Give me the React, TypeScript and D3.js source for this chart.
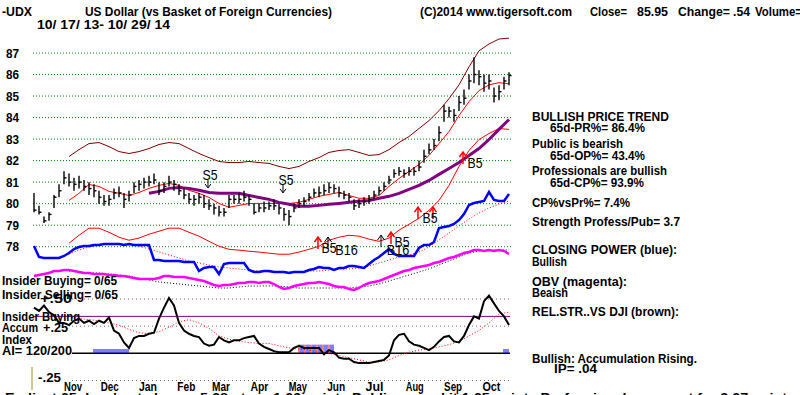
import React from 'react';
import * as d3 from 'd3';

// ---------------- DATA ----------------
const priceTicks = [87, 86, 85, 84, 83, 82, 81, 80, 79, 78];
const months = ['Nov', 'Dec', 'Jan', 'Feb', 'Mar', 'Apr', 'May', 'Jun', 'Jul', 'Aug', 'Sep', 'Oct'];
const monthStartDay = [11, 31, 52, 73, 92, 113, 134, 155, 176, 198, 219, 240];
const TRADING_DAYS = 260;

// price bars (sampled)
const closes = [79.7,79.6,79.2,79.5,80.3,80.6,81.2,81.0,80.9,81.0,
 80.8,80.7,80.6,80.3,80.1,80.2,80.5,80.5,80.2,80.4,
 80.8,80.9,81.0,81.0,81.1,80.6,80.8,81.0,80.9,80.6,
 80.4,80.2,80.2,80.3,80.0,79.9,79.8,79.6,79.6,80.2,
 80.2,80.2,80.3,80.2,79.6,79.8,79.8,79.9,79.9,79.8,
 79.5,79.4,79.8,80.0,80.1,80.3,80.5,80.5,80.6,80.75,
 80.7,80.5,80.4,80.3,79.9,80.0,80.1,80.2,80.4,80.6,
 80.8,81.1,81.4,81.5,81.4,81.5,81.5,81.7,82.2,82.5,
 82.7,83.3,84.3,84.3,84.1,84.7,84.9,85.7,86.0,85.9,
 85.6,85.7,85.0,85.2,85.7,85.95];
const highs = [80.5,79.9,79.4,79.6,80.4,80.9,81.5,81.4,81.2,81.3,
 81.1,81.0,80.9,80.6,80.4,80.4,80.7,80.8,80.5,80.6,
 81.0,81.1,81.2,81.3,81.4,81.0,81.0,81.3,81.1,80.9,
 80.7,80.5,80.4,80.5,80.4,80.2,80.0,79.9,79.8,80.4,
 80.4,80.5,80.6,80.4,80.0,80.0,80.1,80.1,80.2,80.0,
 79.8,79.7,80.0,80.2,80.3,80.5,80.7,80.8,80.9,81.0,
 80.9,80.8,80.6,80.5,80.2,80.2,80.3,80.4,80.6,80.8,
 81.0,81.3,81.6,81.7,81.6,81.7,81.7,82.0,82.5,82.8,
 83.0,83.6,84.6,84.5,84.4,85.0,85.3,86.0,86.8,86.2,
 86.0,86.0,85.4,85.5,85.9,86.1];
const lows = [79.6,79.5,79.1,79.2,79.8,80.3,80.9,80.8,80.6,80.7,
 80.6,80.4,80.3,80.0,79.9,79.9,80.2,80.3,79.8,80.1,
 80.5,80.6,80.7,80.8,80.9,80.4,80.5,80.8,80.6,80.4,
 80.2,80.0,79.9,80.0,79.8,79.7,79.5,79.4,79.4,79.8,
 80.0,80.0,80.1,79.9,79.5,79.6,79.6,79.7,79.7,79.5,
 79.2,79.0,79.6,79.8,79.9,80.1,80.3,80.3,80.4,80.5,
 80.5,80.3,80.2,80.1,79.7,79.8,79.9,80.0,80.2,80.4,
 80.6,80.9,81.2,81.3,81.2,81.3,81.3,81.5,81.9,82.3,
 82.5,82.9,83.8,84.0,83.8,84.3,84.6,85.3,85.6,85.5,
 85.2,85.3,84.7,84.8,85.3,85.5];

// smooth series, every second bar starting at bar 7
const priceMA = [80.15,80.48,80.89,80.8,80.57,80.48,80.38,80.52,80.71,80.85,
 80.94,80.85,80.62,80.48,80.29,80.01,79.83,79.92,80.01,80.01,
 80.01,80.01,80.01,80.06,80.2,80.34,80.43,80.52,80.38,80.25,
 80.25,80.38,80.8,81.17,81.5,81.82,82.24,82.79,83.35,84.09,
 84.74,85.25,85.52,85.62,85.57];
const upperBand = [82.19,82.51,82.79,82.84,82.65,82.42,82.33,82.42,82.56,82.75,
 82.84,82.79,82.56,82.33,82.14,81.96,81.91,81.91,81.96,81.91,
 81.87,81.73,81.63,81.73,81.96,82.14,82.38,82.47,82.51,82.38,
 82.24,82.28,82.51,82.84,83.12,83.49,83.86,84.32,84.88,85.52,
 86.36,87.1,87.42,87.65,87.69];
const lowerBand = [78.16,78.53,78.86,78.86,78.67,78.44,78.3,78.4,78.58,78.72,
 78.86,78.86,78.67,78.49,78.25,78.02,77.88,77.84,77.79,77.75,
 77.7,77.65,77.65,77.75,77.88,78.02,78.3,78.44,78.53,78.49,
 78.35,78.25,78.4,78.77,79.04,79.32,79.69,80.15,80.85,81.73,
 82.47,82.98,83.26,83.49,83.45];
// long MA, every second bar starting at bar 23
const longMA = [80.48,80.57,80.71,80.75,80.71,80.62,80.52,80.48,80.48,80.48,
 80.38,80.29,80.2,80.06,79.97,79.88,79.88,79.92,79.97,80.01,
 80.06,80.11,80.15,80.25,80.34,80.48,80.66,80.85,81.08,81.36,
 81.63,81.91,82.24,82.56,82.98,83.45,83.91];

const closingPower = [28,17,16,16,16,16,18,21,25,27,
 28,28,29,29,30,30,30,30,29,30,
 29,29,29,29,14,14,13,13,13,13,
 12,12,12,3,6,7,7,0,10,11,
 11,11,11,4,2,2,3,3,2,2,
 2,1,2,2,2,4,5,7,6,6,
 4,6,6,8,8,7,6,10,14,17,
 21,25,20,18,18,18,18,26,29,29,
 32,46,47,48,50,54,60,69,71,72,
 73,82,74,73,73,80];
const closingPowerMA = [20,24,27,29,30,30,30,28,25,22,
 19,16,13,11,9,7,6,5,4,3,
 2,2,2,2,3,3,4,5,5,6,
 8,11,14,17,19,22,27,34,41,48,
 55,61,66,70,73];
const obv = [16,17,18,19,21,21,22,22,21,20,
 19,19,18,18,18,17,17,16,16,15,
 14,13,13,13,13,14,16,16,15,15,
 15,14,13,12,11,9,7,6,7,7,
 8,9,9,10,10,9,10,10,8,5,
 3,4,6,7,8,9,9,10,9,8,
 6,5,5,3,2,4,7,9,10,11,
 13,15,17,19,21,22,24,25,26,27,
 29,30,32,34,35,37,39,40,42,42,
 41,42,41,42,41,38];
const obvMA = [21,20,19,19,18,17,16,14,12,10,
 9,8,7,6,5,4,4,5,6,6,
 6,6,5,4,4,4,4,4,4,5,
 6,8,11,14,17,20,23,27,31,35,
 39,41,42,42,42];
const accumIndex = [.42,.39,.44,.38,.35,.28,.28,.26,.30,.32,
 .28,.30,.27,.30,.28,.33,.21,.18,.10,.05,
 .14,.16,.16,.18,.19,.32,.42,.51,.44,.28,
 .21,.18,.16,.15,.09,.07,.08,.15,.12,.10,
 .12,.12,.14,.15,.16,.09,.06,.04,.02,.01,
 .01,.01,.05,.07,.05,.05,.05,.05,-.01,.03,
 .01,-.04,-.05,-.05,-.08,-.09,-.09,-.09,-.08,-.07,
 -.06,-.02,.12,.17,.18,.11,.08,.07,.05,.03,
 .06,.11,.15,.16,.11,.10,.16,.26,.34,.32,
 .48,.53,.46,.39,.34,.26];
const accumIndexMA = [.34,.32,.31,.30,.28,.26,.22,.19,.18,.20,
 .24,.29,.31,.28,.23,.16,.13,.11,.10,.09,
 .09,.07,.05,.04,.03,.01,0,-.02,-.04,-.06,
 -.08,-.08,-.06,-.02,.01,.03,.04,.06,.08,.11,
 .16,.21,.28,.36,.38];
const accumPeriods: [number, number, string][] = [[12, 19, 'blue'], [53, 60, 'mixed'], [94, 95, 'blue']];
const AI_LEVELS = [0.5, 0.25, -0.25];
const INSIDER_LEVEL = 0.34;

const signalArrows = [
  { bar: 34.8, value: 80.73, dir: 'down', color: '#000000' },
  { bar: 49.8, value: 80.5, dir: 'down', color: '#000000' },
  { bar: 56.8, value: 78.45, dir: 'up', color: '#ff0000' },
  { bar: 58.8, value: 78.45, dir: 'up', color: '#000000' },
  { bar: 69.4, value: 78.54, dir: 'up', color: '#000000' },
  { bar: 71.4, value: 78.68, dir: 'up', color: '#ff0000' },
  { bar: 76.8, value: 79.84, dir: 'up', color: '#ff0000' },
  { bar: 79.8, value: 79.84, dir: 'up', color: '#ff0000' },
  { bar: 85.8, value: 82.4, dir: 'up', color: '#ff0000' },
];
const signalLabels = [
  { text: 'S5', bar: 35.2, value: 81.1 },
  { text: 'S5', bar: 50.4, value: 80.87 },
  { text: 'B5', bar: 59, value: 77.72 },
  { text: 'B16', bar: 62.5, value: 77.61 },
  { text: 'B5', bar: 73.6, value: 77.99 },
  { text: 'B16', bar: 72.8, value: 77.61 },
  { text: 'B5', bar: 79.2, value: 79.1 },
  { text: 'B5', bar: 88.2, value: 81.66 },
];

// ---------------- SCALES ----------------
const N = closes.length;
const xBar = d3.scaleLinear().domain([0, N - 1]).range([34, 509]);
const xDay = d3.scaleLinear().domain([0, TRADING_DAYS]).range([34, 509]);
const yPrice = d3.scaleLinear().domain([78, 87]).range([246.7, 53]);
const yCP = d3.scaleLinear().domain([0, 84]).range([274, 190]);
const yOBV = d3.scaleLinear().domain([0, 42]).range([292, 250]);
const yAI = d3.scaleLinear().domain([-0.25, 0.5]).range([380.5, 299]);

const FONT = "'Liberation Sans', Arial, Helvetica, sans-serif";

function mkLine(scale: (v: number) => number, start: number, step: number) {
  return d3.line<number>().x((_, k) => xBar(start + step * k)).y(d => scale(d));
}

function T({ x, y, w, children, size = 12.5, weight = 'bold', anchor = 'start', fill = '#000' }: any) {
  return (
    <text x={x} y={y} fontSize={size} fontWeight={weight} fontFamily={FONT} textAnchor={anchor} fill={fill}
      textLength={w} lengthAdjust={w ? 'spacingAndGlyphs' : undefined}>{children}</text>
  );
}

export default function App() {
  const gx0 = 33, gx1 = 512;
  const hatch: any[] = [];
  accumPeriods.forEach(([a, b, kind], pi) => {
    const x0 = xBar(a), x1 = xBar(b);
    let k = 0;
    for (let x = x0; x <= x1; x += 2, k++) {
      const col = kind === 'blue' ? '#0000ff' : (k % 3 === 0 ? '#ff0000' : '#0000ff');
      hatch.push(<line key={`h${pi}-${k}`} x1={x} x2={x} y1={yAI(0)} y2={yAI(kind === 'mixed' ? 0.08 : 0.04)} stroke={col} strokeWidth={1} />);
    }
  });

  return (
    <svg width={800} height={395} style={{ position: 'fixed', left: 0, top: 0, background: '#fff' }}>
      <rect x={0} y={0} width={800} height={395} fill="#fff" />
      {/* price grid */}
      {priceTicks.map(t => (
        <g key={t}>
          <line x1={gx0} x2={gx1} y1={yPrice(t)} y2={yPrice(t)} stroke="#008000" strokeWidth={1} strokeDasharray="1 2" />
          <T x={6} y={yPrice(t) + 4.5} w={13}>{t}</T>
        </g>
      ))}
      {/* bands and MAs */}
      <path d={mkLine(yPrice, 7, 2)(upperBand) || ''} fill="none" stroke="#800000" strokeWidth={1} />
      <path d={mkLine(yPrice, 7, 2)(lowerBand) || ''} fill="none" stroke="#ff0000" strokeWidth={1} />
      <path d={mkLine(yPrice, 7, 2)(priceMA) || ''} fill="none" stroke="#ff0000" strokeWidth={1} />
      <path d={mkLine(yPrice, 23, 2)(longMA) || ''} fill="none" stroke="#800080" strokeWidth={3} />
      {/* price bars */}
      {closes.map((c, i) => (
        <g key={i}>
          <line x1={xBar(i)} x2={xBar(i)} y1={yPrice(highs[i])} y2={yPrice(lows[i])} stroke="#000" strokeWidth={1.4} />
          <line x1={xBar(i)} x2={xBar(i) + 2.5} y1={yPrice(c)} y2={yPrice(c)} stroke="#000" strokeWidth={1.4} />
        </g>
      ))}
      {/* closing power */}
      <path d={mkLine(yCP, 7, 2)(closingPowerMA) || ''} fill="none" stroke="#ff0000" strokeWidth={1} strokeDasharray="1 2" />
      <path d={mkLine(yCP, 0, 1)(closingPower) || ''} fill="none" stroke="#0000ff" strokeWidth={2.5} />
      {/* OBV */}
      <path d={mkLine(yOBV, 7, 2)(obvMA) || ''} fill="none" stroke="#000" strokeWidth={1} strokeDasharray="1 2" />
      <path d={mkLine(yOBV, 0, 1)(obv) || ''} fill="none" stroke="#ff00ff" strokeWidth={2.5} />
      {/* signals */}
      {signalArrows.map((s, i) => {
        const x = xBar(s.bar), y = yPrice(s.value);
        if (s.dir === 'down') {
          return (
            <g key={i} stroke={s.color} strokeWidth={1} fill="none">
              <line x1={x} x2={x} y1={y - 8} y2={y} />
              <polyline points={`${x - 3},${y - 4} ${x},${y} ${x + 3},${y - 4}`} />
            </g>
          );
        }
        return (
          <g key={i} stroke={s.color} strokeWidth={s.color === '#ff0000' ? 1.5 : 1} fill="none">
            <line x1={x} x2={x} y1={y} y2={y + 12} />
            <polyline points={`${x - 3.5},${y + 5} ${x},${y} ${x + 3.5},${y + 5}`} />
          </g>
        );
      })}
      {signalLabels.map((s, i) => (
        <T key={i} x={xBar(s.bar)} y={yPrice(s.value)} anchor="middle" size={14} weight="normal" w={s.text.length * 7.5}>{s.text}</T>
      ))}

      {/* lower panel: accumulation index */}
      {AI_LEVELS.map(l => (
        <line key={l} x1={72} x2={510} y1={yAI(l)} y2={yAI(l)} stroke="#906060" strokeWidth={1} strokeDasharray="1 3" />
      ))}
      <line x1={gx0} x2={510} y1={yAI(INSIDER_LEVEL)} y2={yAI(INSIDER_LEVEL)} stroke="#800080" strokeWidth={1} />
      <line x1={72} x2={510} y1={yAI(0)} y2={yAI(0)} stroke="#000" strokeWidth={1.5} />
      {hatch}
      <path d={mkLine(yAI, 7, 2)(accumIndexMA) || ''} fill="none" stroke="#ff0000" strokeWidth={1} strokeDasharray="1 2" />
      <path d={mkLine(yAI, 0, 1)(accumIndex) || ''} fill="none" stroke="#000" strokeWidth={2} />
      <line x1={32} x2={32} y1={367} y2={390} stroke="#a09020" strokeWidth={1} />

      {/* left lower texts */}
      <T x={40} y={303} w={32}>+.50</T>
      <T x={2} y={285} w={115}>Insider Buying= 0/65</T>
      <T x={2} y={298.5} w={116}>Insider Selling= 0/65</T>
      <T x={2} y={321} w={78}>Insider Buying</T>
      <T x={2} y={332} w={36}>Accum</T>
      <T x={43} y={332} w={25}>+.25</T>
      <T x={2} y={343.5} w={30}>Index</T>
      <T x={2} y={355} w={70}>AI= 120/200</T>
      <T x={38} y={382} w={23}>-.25</T>
      {months.map((m, i) => (
        <T key={m} x={xDay(monthStartDay[i]) + 10} y={391} w={m.length * 6}>{m}</T>
      ))}

      {/* title row */}
      <T x={2} y={16} w={30}>-UDX</T>
      <T x={85} y={16} w={247}>US Dollar (vs Basket of Foreign Currencies)</T>
      <T x={37} y={28.5} w={133}>10/ 17/ 13- 10/ 29/ 14</T>
      <T x={420} y={16} w={152}>(C)2014 www.tigersoft.com</T>
      <T x={590} y={16} w={37}>Close=</T>
      <T x={637} y={16} w={31}>85.95</T>
      <T x={678} y={16} w={52}>Change=</T>
      <T x={733} y={16} w={17}>.54</T>
      <T x={755} y={16} w={47}>Volume=</T>

      {/* right text panel */}
      <T x={532} y={120.5} w={137}>BULLISH PRICE TREND</T>
      <T x={550} y={132} w={95}>65d-PR%= 86.4%</T>
      <T x={532} y={148} w={91}>Public is bearish</T>
      <T x={550} y={159.5} w={95}>65d-OP%= 43.4%</T>
      <T x={532} y={174.5} w={135}>Professionals are bullish</T>
      <T x={550} y={187} w={94}>65d-CP%= 93.9%</T>
      <T x={532} y={207} w={98}>CP%vsPr%=  7.4%</T>
      <T x={532} y={226} w={148}>Strength Profess/Pub= 3.7</T>
      <T x={532} y={254} w={145}>CLOSING POWER (blue):</T>
      <T x={532} y={265.5} w={35}>Bullish</T>
      <T x={532} y={286} w={95}>OBV (magenta):</T>
      <T x={532} y={297} w={36}>Beaish</T>
      <T x={532} y={316} w={147}>REL.STR..VS DJI (brown):</T>
      <T x={532} y={363} w={165}>Bullish: Accumulation Rising.</T>
      <T x={554} y={373} w={43}>IP=  .04</T>
      <T x={5} y={402} w={790}>Earliest 65 days' net change 5.68 pts ... 1.00 points   Public moved it 1.65 points   Professionals account for 2.07 points</T>
    </svg>
  );
}
